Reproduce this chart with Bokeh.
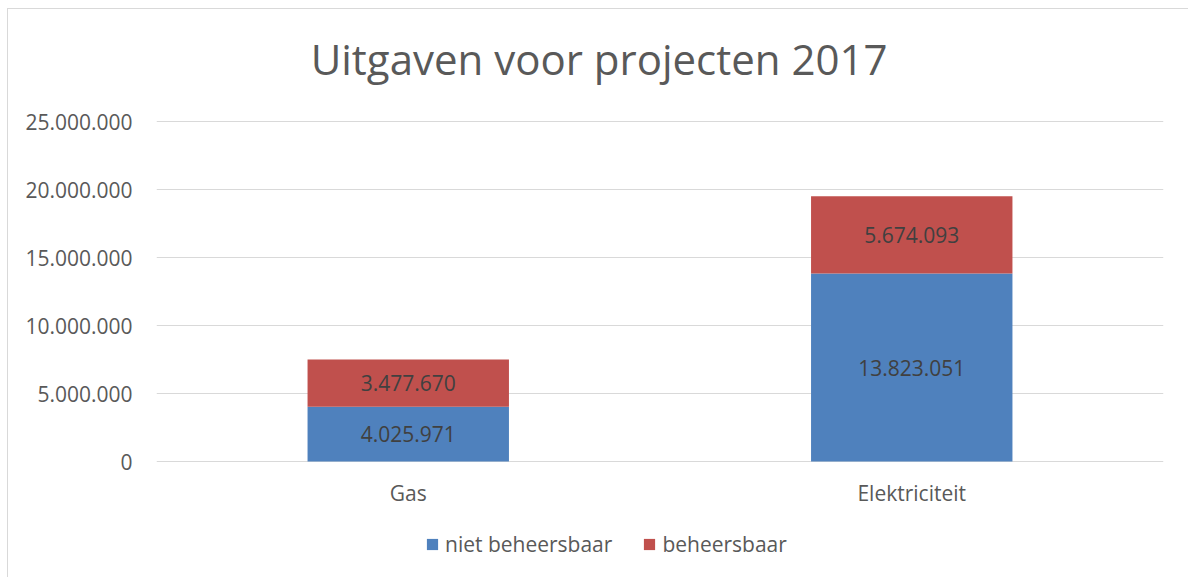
from bokeh.plotting import figure
from bokeh.models import (ColumnDataSource, FactorRange, Range1d, FixedTicker,
                          CustomJSTickFormatter, Legend, LegendItem, Label)
from bokeh.core.properties import value
from bokeh.embed import file_html
from bokeh.resources import INLINE

# ---- data ----
categories = ["Gas", "Elektriciteit"]
niet_beheersbaar = [4025971, 13823051]
beheersbaar = [3477670, 5674093]
series_names = ["niet beheersbaar", "beheersbaar"]
y_ticks = [0, 5000000, 10000000, 15000000, 20000000, 25000000]
title_text = "Uitgaven voor projecten 2017"

colors = ["#4F81BD", "#C0504D"]
FONT = "Open Sans"
GREY = "#595959"

# vertical scale: 25.000.000 spans 340 px
PX = 25000000 / 340.0


def fmt(v):
    return f"{v:,}".replace(",", ".")


src = ColumnDataSource(dict(cat=categories, nb=niet_beheersbaar, b=beheersbaar))

# frame extends from just under the chart border to the bottom of the page,
# so the title and legend live inside the frame (not clipped)
p = figure(x_range=FactorRange(*categories),
           y_range=Range1d(-117 * PX, 451 * PX),
           width=1181, height=569, output_backend="svg", toolbar_location=None,
           x_axis_location=None,
           min_border_left=148, min_border_right=26, min_border_top=1,
           min_border_bottom=0)
p.styles = {"margin-left": "7px", "margin-top": "8px",
            "border-left": "1px solid #d9d9d9", "border-top": "1px solid #d9d9d9"}
p.outline_line_color = None
p.background_fill_color = "white"
p.border_fill_color = "white"

r = p.vbar_stack(["nb", "b"], x="cat", width=0.4, color=colors, source=src,
                 line_color=None)

# segment labels
lab_x, lab_y, lab_t = [], [], []
for c, a, b in zip(categories, niet_beheersbaar, beheersbaar):
    lab_x += [c, c]
    lab_y += [a / 2, a + b / 2]
    lab_t += [fmt(a), fmt(b)]
p.text(x=lab_x, y=lab_y, text=lab_t, text_align="center", text_baseline="middle",
       text_font=value(FONT), text_font_size="21px", text_color="#404040")

# category labels (x axis)
p.text(x=categories, y=[-31 * PX] * len(categories), text=categories,
       text_align="center", text_baseline="middle", text_font=value(FONT),
       text_font_size="21px", text_color=GREY)

# y axis
p.yaxis.ticker = FixedTicker(ticks=y_ticks)
p.yaxis.formatter = CustomJSTickFormatter(
    code="return Math.round(tick).toString().replace(/\\B(?=(\\d{3})+(?!\\d))/g, '.');")
ax = p.yaxis[0]
ax.axis_line_color = None
ax.major_tick_line_color = None
ax.minor_tick_line_color = None
ax.major_tick_out = 0
ax.major_tick_in = 0
ax.major_label_text_font = FONT
ax.major_label_text_color = GREY
ax.major_label_text_font_size = "21px"
ax.major_label_standoff = 24

p.xgrid.grid_line_color = None
p.ygrid.grid_line_color = "#d9d9d9"
p.ygrid.grid_line_width = 1

# title
p.add_layout(Label(x=0.879, y=403 * PX, text=title_text, text_align="center",
                   text_baseline="middle", text_font=FONT, text_font_size="42px",
                   text_color=GREY))

# legend
legend = Legend(items=[LegendItem(label=series_names[0], renderers=[r[0]]),
                       LegendItem(label=series_names[1], renderers=[r[1]])],
                location=(269, 20), orientation="horizontal",
                glyph_width=14, glyph_height=14, label_standoff=6, spacing=30,
                padding=0, margin=0, border_line_color=None,
                background_fill_alpha=0, label_text_font=FONT,
                label_text_font_size="21px", label_text_color=GREY)
p.add_layout(legend, "center")

open("out.html", "w").write(file_html(p, INLINE))
